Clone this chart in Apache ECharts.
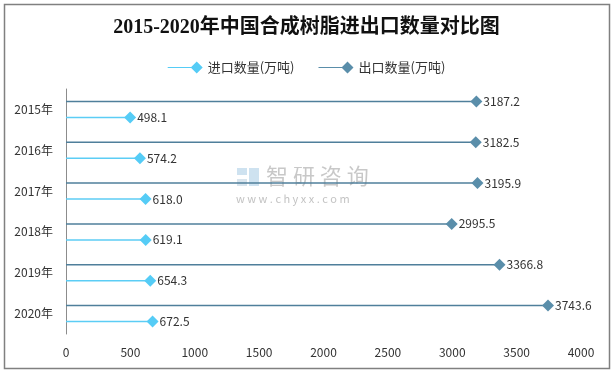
<!DOCTYPE html>
<html><head><meta charset="utf-8">
<script src="https://cdn.jsdelivr.net/npm/echarts@6/dist/echarts.min.js"></script>
<style>html,body{margin:0;padding:0;background:#fff}#c{width:613px;height:373px}</style>
</head><body><div id="c"></div>
<script>
const years = ['2015年','2016年','2017年','2018年','2019年','2020年'];
const importVals = [498.1, 574.2, 618.0, 619.1, 654.3, 672.5];
const exportVals = [3187.2, 3182.5, 3195.9, 2995.5, 3366.8, 3743.6];
const xTicks = [0, 500, 1000, 1500, 2000, 2500, 3000, 3500, 4000];
const seriesNames = ['进口数量(万吨)', '出口数量(万吨)'];

const chart = echarts.init(document.getElementById('c'));
const FONT = '"Noto Sans CJK SC", "Noto Sans", sans-serif';

function makeRender(offset, lineColor, dotColor) {
  return function (params, api) {
    const cat = api.value(0), val = api.value(1);
    const s = api.coord([0, cat]);
    const e = api.coord([val, cat]);
    const y = s[1] + offset;
    const ex = e[0];
    const h = 6;
    return {
      type: 'group',
      children: [
        {type: 'line', shape: {x1: s[0], y1: y, x2: ex, y2: y}, style: {stroke: lineColor, lineWidth: 1.5}},
        {type: 'polygon', shape: {points: [[ex - h, y], [ex, y - h], [ex + h, y], [ex, y + h]]}, style: {fill: dotColor}},
        {type: 'text', style: {text: val.toFixed(1), x: ex + 7, y: y, verticalAlign: 'middle', align: 'left', fill: '#333', font: '12px ' + FONT}}
      ]
    };
  };
}

const legendIcon = 'path://M0,5.4h24v1.2H0z M23,6 L29,0 L35,6 L29,12z';

chart.setOption({
  animation: false,
  title: {
    text: '2015-2020年中国合成树脂进出口数量对比图',
    left: 'center', top: 13,
    textStyle: {fontSize: 20, fontWeight: 'bold', color: '#111', fontFamily: '"Liberation Serif", "Noto Sans CJK SC", serif'}
  },
  legend: {
    top: 56, left: 'center',
    itemWidth: 35, itemHeight: 12, itemGap: 24,
    textStyle: {fontSize: 13, color: '#333', fontFamily: FONT},
    data: [{name: seriesNames[0], icon: legendIcon}, {name: seriesNames[1], icon: legendIcon}]
  },
  grid: {left: 66, right: 32, top: 89, bottom: 39},
  xAxis: {
    type: 'value', min: xTicks[0], max: xTicks[xTicks.length - 1], interval: 500,
    axisLine: {show: false}, axisTick: {show: false}, splitLine: {show: false},
    axisLabel: {color: '#333', fontSize: 12, fontFamily: FONT, margin: 12, formatter: v => String(v)}
  },
  yAxis: {
    type: 'category', inverse: true, data: years,
    axisLine: {lineStyle: {color: '#8c8c8c', width: 1}}, axisTick: {show: false},
    axisLabel: {color: '#333', fontSize: 12, fontFamily: FONT, margin: 13}
  },
  series: [
    {
      name: seriesNames[0], type: 'custom',
      itemStyle: {color: '#55ccf6'},
      encode: {x: 1, y: 0},
      renderItem: makeRender(8, '#5ccdf5', '#55ccf6'),
      data: importVals.map((v, i) => [i, v]), z: 3
    },
    {
      name: seriesNames[1], type: 'custom',
      itemStyle: {color: '#5a8eaa'},
      encode: {x: 1, y: 0},
      renderItem: makeRender(-8, '#4f7f9b', '#5a8eaa'),
      data: exportVals.map((v, i) => [i, v]), z: 3
    }
  ],
  graphic: [
    {type: 'rect', shape: {x: 4.5, y: 4.5, width: 605, height: 364}, style: {fill: 'none', stroke: '#808080', lineWidth: 1.5}, silent: true, z: 10},
    {type: 'rect', shape: {x: 237, y: 168, width: 10, height: 7}, style: {fill: '#b9d6ea', opacity: 0.7}, z: 1, silent: true},
    {type: 'rect', shape: {x: 249, y: 168, width: 10, height: 18}, style: {fill: '#b9d6ea', opacity: 0.7}, z: 1, silent: true},
    {type: 'rect', shape: {x: 237, y: 179, width: 10, height: 7}, style: {fill: '#c8d9e6', opacity: 0.7}, z: 1, silent: true},
    {type: 'text', left: 266, top: 165, style: {text: '智 研 咨 询', fill: '#b0b0b0', opacity: 0.7, font: '22px ' + FONT}, z: 1, silent: true},
    {type: 'text', left: 236, top: 193, style: {text: 'w w w . c h y x x . c o m', fill: '#a8a8a8', opacity: 0.7, font: '11px ' + FONT}, z: 1, silent: true}
  ]
});
</script>
</body></html>
